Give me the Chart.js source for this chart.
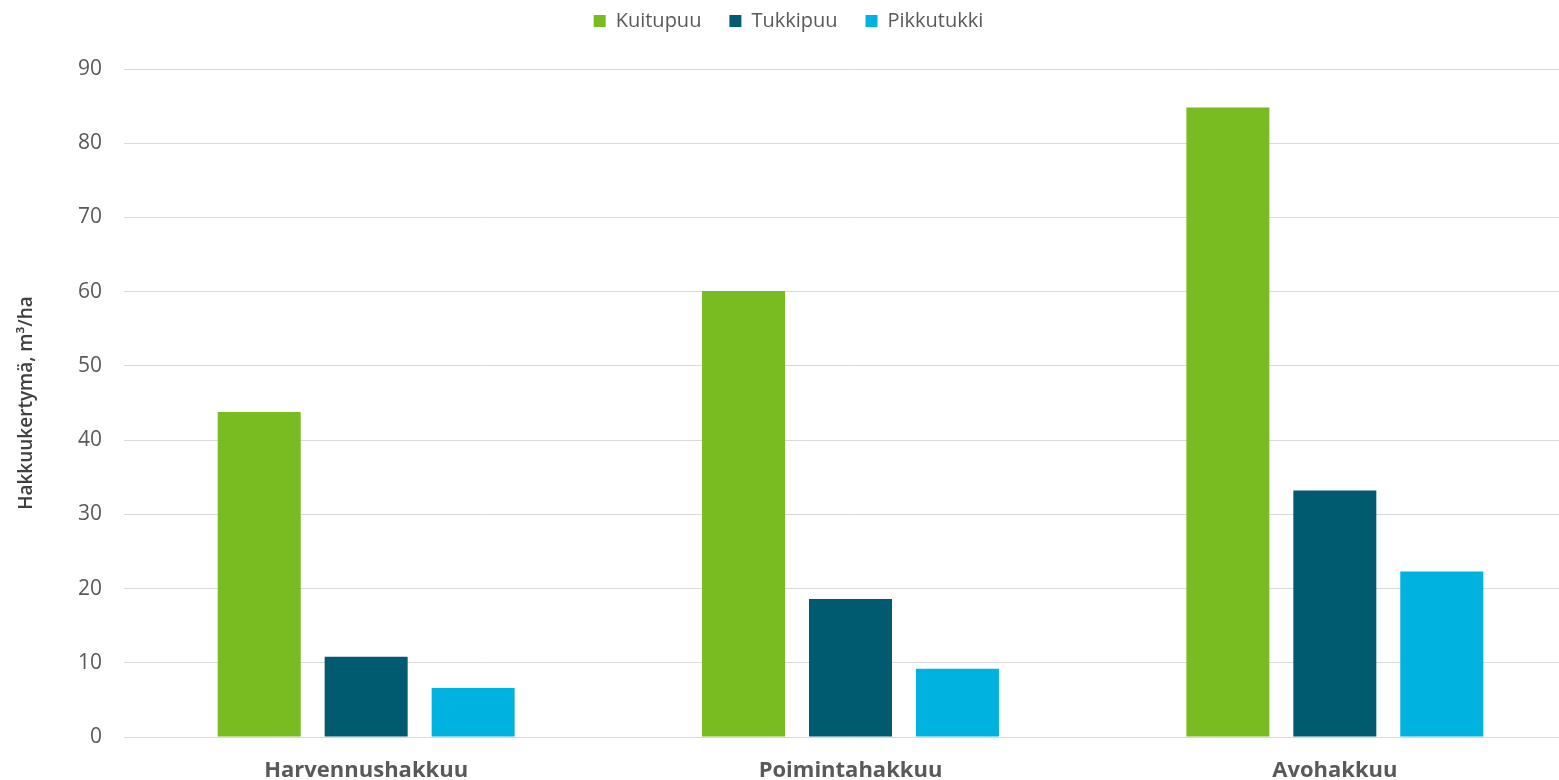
<!DOCTYPE html>
<html lang="fi">
<head>
<meta charset="utf-8">
<title>Hakkuukertymä hakkuutavoittain</title>
<script src="https://cdn.jsdelivr.net/npm/chart.js@4.4.1/dist/chart.umd.min.js"></script>
<style>
  html, body { margin: 0; padding: 0; background: #fff; overflow: hidden; }
  #wrap { position: absolute; left: 0; top: 0; width: 1580px; height: 780px; }
</style>
</head>
<body>
<div id="wrap"><canvas id="chart-hakkuu" width="1580" height="780"></canvas></div>
<script>
/* ─── Aineisto ───────────────────────────────────────────────────────── */
const hakkuutavat = ['Harvennushakkuu', 'Poimintahakkuu', 'Avohakkuu'];
const kuitupuu    = [43.8, 60.1, 84.8];
const tukkipuu    = [10.8, 18.6, 33.2];
const pikkutukki  = [6.6, 9.2, 22.3];
const yTicks      = [0, 10, 20, 30, 40, 50, 60, 70, 80, 90];

/* ─── Värit ja fontit ────────────────────────────────────────────────── */
const GREEN = '#78bc21', PETROL = '#005a70', CYAN = '#00b2df';
const GREY = '#595959', GRID = '#d9d9d9';
const FONT = '"Open Sans", "Noto Sans", sans-serif';

Chart.defaults.font.family = FONT;
Chart.defaults.color = GREY;

// Selitteen alle lisätilaa, jotta kuvaaja alkaa vasta selvästi sen alapuolelta
const LEGEND_GAP = 28;
const legendGap = {
  id: 'legendGap',
  afterInit(chart) {
    const lg = chart.legend;
    if (!lg) return;
    const fit = lg.fit;
    lg.fit = function () { fit.call(this); this.height += LEGEND_GAP; };
  }
};

function sarja(label, data, color) {
  return {
    label,
    data,
    backgroundColor: color,
    borderWidth: 0,
    categoryPercentage: 0.6625,
    barPercentage: 0.776,
  };
}

new Chart(document.getElementById('chart-hakkuu'), {
  type: 'bar',
  data: {
    labels: hakkuutavat,
    datasets: [
      sarja('Kuitupuu', kuitupuu, GREEN),
      sarja('Tukkipuu', tukkipuu, PETROL),
      sarja('Pikkutukki', pikkutukki, CYAN),
    ]
  },
  plugins: [legendGap],
  options: {
    responsive: false,
    animation: false,
    // negatiivinen yläreuna: selitteen väli (padding) levittää kohteita myös pystysuunnassa
    layout: { padding: { top: -17, right: 3, left: 0, bottom: 0 } },
    plugins: {
      legend: {
        position: 'top',
        labels: {
          boxWidth: 12,
          boxHeight: 12,
          padding: 28,
          font: { size: 20 },
          color: GREY,
        }
      },
      tooltip: { enabled: false }
    },
    scales: {
      x: {
        grid: { display: false, drawTicks: false },
        border: { display: false },
        ticks: { padding: 21, color: GREY, font: { size: 22, weight: 'bold' } },
        afterFit: s => { s.height = 43; }
      },
      y: {
        min: 0,
        max: 90,
        afterBuildTicks: s => { s.ticks = yTicks.map(v => ({ value: v })); },
        grid: { color: GRID, lineWidth: 1, drawTicks: false },
        border: { display: false },
        ticks: { padding: 22, color: GREY, font: { size: 21 } },
        title: {
          display: true,
          text: 'Hakkuukertymä, m³/ha',
          color: '#404040',
          font: { size: 19, weight: '600' },
          padding: { top: 15, bottom: 0 }
        },
        afterFit: s => { s.width = 124; }
      }
    }
  }
});
</script>
</body>
</html>
